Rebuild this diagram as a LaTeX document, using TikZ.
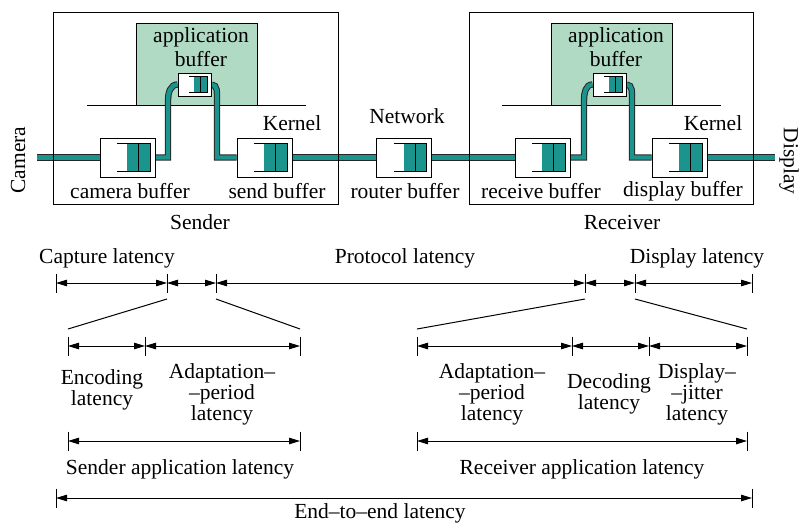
\documentclass[tikz,border=0pt]{standalone}
\usepackage{fontspec}
\setmainfont{Liberation Serif}
\newfontfamily\labelfont{Liberation Serif}
\usepackage{tikz}
\usetikzlibrary{arrows.meta}

\definecolor{pipeteal}{RGB}{26,148,140}
\definecolor{appgreen}{RGB}{176,218,196}

\tikzset{
  buf/.style={draw, fill=white, minimum width=55pt, minimum height=39pt, inner sep=0pt},
  appbuf/.style={draw, fill=white, minimum width=33pt, minimum height=23pt, inner sep=0pt},
  pipeline/.style={draw=black!85, line width=1pt, double=pipeteal, double distance=4.4pt},
  span/.style={>={Triangle[length=11pt,width=6.5pt]}, <->},
  queue/.pic={
    \fill[pipeteal] (-0.5,-14) rectangle (22.5,14);
    \draw (-10.5,-14) -- (22.5,-14) -- (22.5,14) -- (-10.5,14);
    \draw (11,-14) -- (11,14);
  },
}

\begin{document}
\begin{tikzpicture}[x=1pt, y=-1pt, line width=1pt,
    every node/.style={inner sep=0pt},
    font=\labelfont\fontsize{21.5pt}{22pt}\selectfont]
  \useasboundingbox (0,0) rectangle (800,523);

  % application areas above the kernel line
  \draw[fill=appgreen] (136,23) rectangle (257,105);
  \draw[fill=appgreen] (551,23) rectangle (672,105);
  \draw (87,105) -- (306,105);
  \draw (502,105) -- (721,105);

  \node[buf] (cambuf) at (127.5,157.5) {};
  \node[buf] (sendbuf) at (264.5,157.5) {};
  \node[buf] (routbuf) at (404,157.5) {};
  \node[buf] (recvbuf) at (542.5,157.5) {};
  \node[buf] (dispbuf) at (679.5,157.5) {};
  \node[appbuf] (sapp) at (194.5,84.5) {};
  \node[appbuf] (rapp) at (609.5,84.5) {};
  \coordinate (pipel) at (37,157.5);
  \coordinate (piper) at (775,157.5);

  % the data path
  \draw[pipeline] (pipel) -- (cambuf.west);
  \draw[pipeline] (cambuf.east) -| (168,100) to[out=90,in=180] (sapp.west);
  \draw[pipeline] (sapp.east) to[out=0,in=90] (217,100) |- (sendbuf.west);
  \draw[pipeline] (sendbuf.east) -- (routbuf.west);
  \draw[pipeline] (routbuf.east) -- (recvbuf.west);
  \draw[pipeline] (recvbuf.east) -| (584,100) to[out=90,in=180] (rapp.west);
  \draw[pipeline] (rapp.east) to[out=0,in=90] (632,100) |- (dispbuf.west);
  \draw[pipeline] (dispbuf.east) -- (piper);

  % redraw the buffers on top of the pipe
  \foreach \b in {cambuf,sendbuf,routbuf,recvbuf,dispbuf} {
    \node[buf] at (\b) {};
    \pic at (\b) {queue};
  }
  \foreach \b in {sapp,rapp} {
    \node[appbuf] at (\b) {};
    \pic[scale=0.56] at (\b) {queue};
  }

  % hosts
  \draw (53,12) rectangle (338,204);
  \draw (469,12) rectangle (753,204);

  \node (sapplbl) at (201,37) {application};
  \node (sbuflbl) at (201,59) {buffer};
  \node (rapplbl) at (616,37) {application};
  \node (rbuflbl) at (616,59) {buffer};
  \node (skernel) at (292,123) {Kernel};
  \node (rkernel) at (713,123) {Kernel};
  \node (network) at (407,116) {Network};
  \node (camlbl) at (130,191) {camera buffer};
  \node (sendlbl) at (277,191) {send buffer};
  \node (routlbl) at (405,191) {router buffer};
  \node (recvlbl) at (541,191) {receive buffer};
  \node (displbl) at (683,191) {display buffer};
  \node (sender) at (200,222) {Sender};
  \node (receiver) at (622,222) {Receiver};
  \node[rotate=90] (camera) at (18,160) {Camera};
  \node[rotate=-90] (display) at (789,161) {Display};

  % latency break-down
  \foreach \n/\x in {c1/56,c2/167,c3/216,c4/585,c5/635,c6/752}
    \coordinate (\n) at (\x,283);
  \foreach \n/\x in {s1/68,s2/145,s3/300,r1/417,r2/572,r3/649,r4/747}
    \coordinate (\n) at (\x,346);
  \foreach \n/\x in {sa1/68,sa2/300,ra1/417,ra2/747}
    \coordinate (\n) at (\x,441);
  \coordinate (e1) at (56,498);
  \coordinate (e2) at (752,498);

  \foreach \a/\b in {c1/c2,c2/c3,c3/c4,c4/c5,c5/c6,s1/s2,s2/s3,r1/r2,r2/r3,r3/r4,sa1/sa2,ra1/ra2,e1/e2}
    \draw[span] (\a) -- (\b);
  \foreach \c in {c1,c2,c3,c4,c5,c6,s1,s2,s3,r1,r2,r3,r4,sa1,sa2,ra1,ra2,e1,e2}
    \draw ([yshift=9.5pt]\c) -- ([yshift=-9.5pt]\c);

  \draw ([yshift=-16pt]c2) -- ([yshift=17pt]s1);
  \draw ([yshift=-16pt]c3) -- ([yshift=17pt]s3);
  \draw ([yshift=-16pt]c4) -- ([yshift=17pt]r1);
  \draw ([yshift=-16pt]c5) -- ([yshift=17pt]r4);

  \node (capture) at (107,258) {Capture latency};
  \node (protocol) at (405,258) {Protocol latency};
  \node (displat) at (697,258) {Display latency};
  \node[align=center, font=\labelfont\fontsize{21.5pt}{18.5pt}\selectfont] (encoding) at (102,390) {Encoding\\latency};
  \node[align=center, font=\labelfont\fontsize{21.5pt}{21pt}\selectfont] (sadapt) at (222,394) {Adaptation–\\–period\\latency};
  \node[align=center, font=\labelfont\fontsize{21.5pt}{21pt}\selectfont] (radapt) at (492,394) {Adaptation–\\–period\\latency};
  \node[align=center, font=\labelfont\fontsize{21.5pt}{18.5pt}\selectfont] (decoding) at (609,394) {Decoding\\latency};
  \node[align=center, font=\labelfont\fontsize{21.5pt}{21pt}\selectfont] (jitter) at (697,394) {Display–\\–jitter\\latency};
  \node (sendapp) at (180,469) {Sender application latency};
  \node (recvapp) at (582,469) {Receiver application latency};
  \node (endtoend) at (380,513) {End–to–end latency};
\end{tikzpicture}
\end{document}
